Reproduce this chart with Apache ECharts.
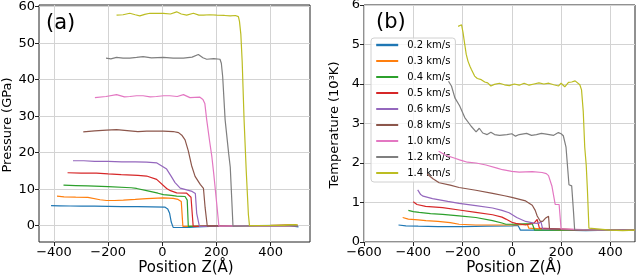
<!DOCTYPE html>
<html><head><meta charset="utf-8">
<script src="https://cdn.jsdelivr.net/npm/echarts@6.0.0/dist/echarts.min.js"></script>
<style>html,body{margin:0;padding:0;background:#fff}#c{width:640px;height:279px}</style>
</head><body><div id="c"></div>
<script>
const speeds = ['0.2 km/s','0.3 km/s','0.4 km/s','0.5 km/s','0.6 km/s','0.8 km/s','1.0 km/s','1.2 km/s','1.4 km/s'];
const colors = ['#1f77b4','#ff7f0e','#2ca02c','#d62728','#9467bd','#8c564b','#e377c2','#7f7f7f','#bcbd22'];
const posTicksA = [-400, -200, 0, 200, 400];
const pressureTicks = [0, 10, 20, 30, 40, 50, 60];
const posTicksB = [-600, -400, -200, 0, 200, 400];
const tempTicks = [0, 1, 2, 3, 4, 5, 6];

// Pressure (GPa) vs position Z (Å)
const p02 = [[-411,5.5],[-380,5.45],[-340,5.4],[-300,5.35],[-250,5.35],[-200,5.3],[-150,5.25],[-90,5.2],[-40,5.15],[9,5.1],[20,4.6],[27,3.4],[33,1.0],[40,-0.45],[60,-0.5],[100,-0.45],[130,-0.35],[200,-0.1],[300,0],[400,0.05],[470,0],[503,-0.3]];
const p03 = [[-389,8.1],[-363,7.9],[-320,7.8],[-275,7.75],[-230,7.1],[-206,6.9],[-176,6.9],[-144,7.0],[-100,7.2],[-58,7.4],[4,7.6],[40,7.5],[58,7.2],[70,6.6],[76,-0.2],[120,-0.2],[200,0],[300,0.05],[400,0.1],[460,0.25],[490,0.3],[500,0.1]];
const p04 = [[-365,11.1],[-320,11.0],[-275,10.9],[-200,10.7],[-115,10.4],[-95,10.2],[-58,9.6],[-16,8.9],[4,8.5],[33,8.3],[53,8.1],[84,8.0],[92,7.0],[96,-0.2],[150,-0.1],[250,0],[350,0.05],[450,0.1],[500,0.05]];
const p05 = [[-350,14.5],[-300,14.4],[-243,14.4],[-200,14.2],[-152,14.0],[-90,13.8],[-58,13.6],[-21,12.7],[16,10.2],[30,9.6],[53,9.0],[90,8.9],[106,7.8],[114,-0.2],[160,-0.1],[250,0],[350,0],[450,0.05],[500,0]];
const p06 = [[-330,17.8],[-290,17.8],[-250,17.6],[-200,17.6],[-150,17.5],[-100,17.5],[-58,17.4],[-20,17.2],[-5,16.5],[16,15.5],[33,13.5],[47,11.8],[66,10.3],[90,9.8],[110,9.4],[122,8.8],[127,3.4],[137,-0.2],[200,-0.1],[300,0],[400,0],[500,0]];
const p08 = [[-292,25.7],[-250,26.0],[-206,26.2],[-169,26.3],[-120,26.0],[-90,25.8],[-58,25.9],[-20,25.9],[4,25.9],[40,25.8],[60,25.5],[72,24.8],[84,23.5],[96,20.5],[108,16.5],[121,13.5],[140,11.3],[152,10.2],[158,5],[166,-0.1],[250,0],[350,0],[450,0],[500,0]];
const p10 = [[-249,35.1],[-208,35.4],[-169,35.9],[-140,35.3],[-120,35.4],[-95,35.6],[-71,35.6],[-45,35.3],[-22,35.4],[5,35.6],[28,35.6],[55,35.4],[78,35.9],[102,35.1],[139,35.2],[150,34.6],[157,33.5],[164,29],[175,23],[183,18.9],[190,14.2],[201,6],[209,-0.1],[300,0],[400,0],[500,0]];
const p12 = [[-208,45.9],[-190,45.7],[-169,46.1],[-145,45.9],[-120,45.9],[-95,46.1],[-71,46.3],[-40,46.0],[4,46.1],[40,45.9],[78,45.9],[110,46.2],[133,46.9],[150,46.0],[164,45.6],[190,45.8],[213,45.6],[218,44.5],[223,40.8],[232,29],[245,19.8],[251,16],[256,8],[261,-0.1],[350,0],[450,0],[500,0]];
const p14 = [[-169,57.7],[-145,57.8],[-120,58.2],[-100,57.8],[-83,57.5],[-65,57.9],[-46,58.2],[4,58.2],[30,58.0],[53,58.6],[70,58.0],[90,57.7],[115,58.2],[135,57.7],[152,57.7],[175,57.8],[201,57.7],[230,57.6],[251,57.5],[270,57.6],[281,57.3],[285,56],[290,52.5],[295,45],[302,29],[310,15],[318,3],[322,0],[400,0.05],[450,0.1],[480,0.3],[500,0.2]];

// Temperature (10^3 K) vs position Z (Å)
const t02 = [[-460,0.43],[-430,0.41],[-380,0.40],[-300,0.39],[-200,0.39],[-100,0.40],[0,0.41],[25,0.42],[30,0.36],[35,0.30],[100,0.30],[200,0.30],[300,0.29],[400,0.30],[500,0.30]];
const t03 = [[-443,0.62],[-420,0.58],[-380,0.56],[-349,0.54],[-300,0.52],[-250,0.49],[-214,0.45],[-146,0.43],[-50,0.43],[0,0.43],[40,0.44],[63,0.45],[69,0.35],[75,0.30],[200,0.30],[350,0.30],[500,0.30]];
const t04 = [[-420,0.80],[-400,0.77],[-376,0.75],[-330,0.72],[-281,0.70],[-214,0.66],[-146,0.62],[-78,0.54],[-40,0.48],[-24,0.45],[0,0.45],[50,0.46],[83,0.46],[88,0.38],[92,0.30],[250,0.30],[500,0.30]];
const t05 = [[-400,1.02],[-385,0.95],[-350,0.90],[-281,0.87],[-214,0.81],[-146,0.75],[-78,0.69],[-40,0.63],[-24,0.58],[0,0.50],[16,0.47],[56,0.43],[90,0.48],[103,0.57],[109,0.60],[112,0.35],[116,0.30],[300,0.30],[500,0.30]];
const t06 = [[-382,1.32],[-370,1.20],[-360,1.16],[-322,1.10],[-260,1.03],[-214,0.98],[-146,0.92],[-78,0.86],[-40,0.80],[-11,0.74],[20,0.62],[56,0.52],[90,0.48],[109,0.47],[118,0.52],[125,0.33],[130,0.30],[300,0.30],[500,0.30]];
const t08 = [[-343,1.72],[-320,1.60],[-295,1.50],[-250,1.44],[-214,1.38],[-146,1.31],[-78,1.23],[-30,1.17],[0,1.13],[56,1.04],[83,0.93],[95,0.80],[103,0.66],[115,0.53],[125,0.52],[136,0.60],[149,0.65],[153,0.33],[158,0.30],[300,0.30],[500,0.30]];
const t10 = [[-297,2.30],[-270,2.20],[-231,2.12],[-212,2.08],[-180,2.02],[-145,2.00],[-105,1.95],[-60,1.87],[-38,1.83],[0,1.79],[30,1.77],[83,1.78],[123,1.76],[140,1.73],[149,1.68],[163,1.41],[176,0.95],[183,0.90],[192,0.95],[196,0.90],[200,0.33],[205,0.30],[350,0.30],[500,0.30]];
const t12 = [[-257,4.07],[-245,3.95],[-231,3.65],[-212,3.45],[-191,3.15],[-165,2.93],[-145,2.79],[-132,2.88],[-118,2.76],[-100,2.72],[-85,2.78],[-70,2.72],[-50,2.70],[-20,2.72],[0,2.74],[15,2.68],[30,2.72],[60,2.75],[80,2.70],[100,2.72],[120,2.75],[140,2.73],[170,2.70],[189,2.77],[200,2.74],[209,2.69],[220,2.40],[232,1.45],[243,1.42],[250,0.80],[255,0.31],[260,0.30],[400,0.30],[500,0.30]];
const t14 = [[-218,5.46],[-210,5.45],[-204,5.50],[-198,5.30],[-191,5.00],[-185,4.75],[-178,4.58],[-170,4.45],[-164,4.37],[-151,4.20],[-140,4.14],[-124,4.11],[-110,4.05],[-98,4.03],[-85,3.95],[-71,3.99],[-50,4.02],[-30,3.98],[-10,3.96],[10,4.00],[30,3.97],[50,4.02],[70,3.97],[90,4.00],[110,4.03],[130,4.00],[150,4.02],[170,3.98],[190,3.95],[200,4.02],[215,3.93],[230,4.04],[243,4.05],[250,4.00],[257,4.08],[265,4.05],[276,3.98],[283,3.85],[290,3.30],[296,2.40],[302,1.95],[307,1.30],[313,0.35],[317,0.30],[400,0.30],[450,0.29],[500,0.30]];

const pressureSets = [p02,p03,p04,p05,p06,p08,p10,p12,p14];
const tempSets = [t02,t03,t04,t05,t06,t08,t10,t12,t14];

const FONT = 'DejaVu Sans';
const fmt = v => String(Math.round(v)).replace('-', '\u2212');

function axisBase(custom) {
  return {
    type: 'value',
    axisLine: { show: false, onZero: false },
    axisTick: { show: true, inside: false, length: 4, customValues: custom, lineStyle: { color: '#222', width: 1 } },
    axisLabel: { color: '#000', fontFamily: FONT, fontSize: 13, margin: 4, customValues: custom, formatter: fmt },
    splitLine: { show: true, lineStyle: { color: '#d3d3d3', width: 1 } }
  };
}

const series = [];
pressureSets.forEach((d, i) => series.push({
  name: speeds[i], type: 'line', xAxisIndex: 0, yAxisIndex: 0, data: d,
  symbol: 'none', lineStyle: { color: colors[i], width: 1.2 }, itemStyle: { color: colors[i] }, z: 2 + i
}));
tempSets.forEach((d, i) => series.push({
  name: speeds[i], type: 'line', xAxisIndex: 1, yAxisIndex: 1, data: d,
  symbol: 'none', lineStyle: { color: colors[i], width: 1.2 }, itemStyle: { color: colors[i] }, z: 2 + i
}));

const chart = echarts.init(document.getElementById('c'), null, { renderer: 'canvas' });
chart.setOption({
  animation: false,
  backgroundColor: '#fff',
  grid: [
    { left: 39, top: 5, width: 271, height: 237, show: true, borderColor: '#222', borderWidth: 1, backgroundColor: 'transparent', containLabel: false, outerBoundsMode: 'none' },
    { left: 364, top: 5, width: 271, height: 237, show: true, borderColor: '#222', borderWidth: 1, backgroundColor: 'transparent', containLabel: false, outerBoundsMode: 'none' }
  ],
  xAxis: [
    Object.assign(axisBase(posTicksA), { gridIndex: 0, min: -455.5, max: 545.5 }),
    Object.assign(axisBase(posTicksB), { gridIndex: 1, min: -600, max: 500, interval: 200 })
  ],
  yAxis: [
    Object.assign(axisBase(pressureTicks), { gridIndex: 0, min: -4.47, max: 60.47 }),
    Object.assign(axisBase(tempTicks), { gridIndex: 1, min: 0, max: 6, interval: 1 })
  ],
  legend: {
    orient: 'vertical', left: 371, top: 38,
    itemWidth: 22, itemHeight: 10, itemGap: 6,
    padding: [2, 5, 4, 4],
    backgroundColor: 'rgba(255,255,255,0.8)', borderColor: '#d0d0d0', borderWidth: 1, borderRadius: 3,
    itemStyle: { opacity: 0, borderWidth: 0 },
    textStyle: { color: '#000', fontFamily: FONT, fontSize: 10, padding: [0, 0, 0, 4] },
    data: speeds.map((s, i) => i === 0 ? { name: s, lineStyle: { width: 2.4 } } : { name: s }),
    selectedMode: false
  },
  graphic: [
    { type: 'text', left: 46, top: 13, style: { text: '(a)', font: '21px "DejaVu Sans"', fill: '#000' } },
    { type: 'text', left: 376, top: 12, style: { text: '(b)', font: '21px "DejaVu Sans"', fill: '#000' }, z: 100 },
    { type: 'text', x: 186, y: 268, style: { text: 'Position Z(\u00c5)', font: '15px "DejaVu Sans"', fill: '#000', align: 'center', verticalAlign: 'middle' } },
    { type: 'text', x: 514, y: 268, style: { text: 'Position Z(\u00c5)', font: '15px "DejaVu Sans"', fill: '#000', align: 'center', verticalAlign: 'middle' } },
    { type: 'text', x: 8, y: 125, rotation: Math.PI / 2, style: { text: 'Pressure (GPa)', font: '13px "DejaVu Sans"', fill: '#000', align: 'center', verticalAlign: 'middle' } },
    { type: 'text', x: 335, y: 125, rotation: Math.PI / 2, style: { text: 'Temperature (10\u00b3K)', font: '13px "DejaVu Sans"', fill: '#000', align: 'center', verticalAlign: 'middle' } }
  ],
  series: series
});
</script></body></html>
